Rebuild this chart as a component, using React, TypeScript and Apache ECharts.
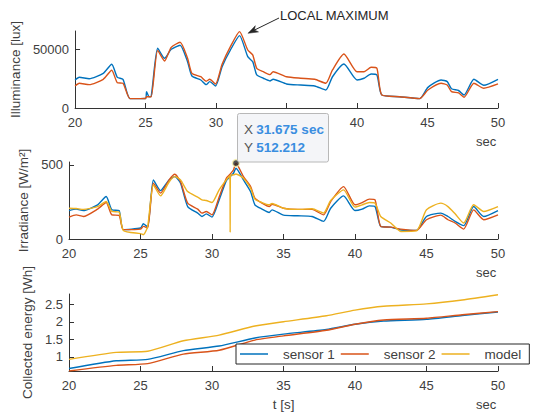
import React, { useEffect, useRef } from "react";
import * as echarts from "echarts";

// ---------- data ----------
const T_ILL = [20, 20.3, 21, 22, 22.6, 23, 23.4, 23.9, 25, 25.07, 25.25, 25.4, 25.86, 26.35, 26.82, 27.45, 27.98, 28.29, 28.92, 29.3, 29.55, 29.97, 30.43, 31.02, 31.67, 32.25, 32.6, 32.89, 33.35, 33.82, 34.05, 35, 36, 37, 37.79, 38.26, 39.07, 40, 40.5, 41, 41.41, 41.76, 43, 44.44, 45.03, 45.96, 46.4, 46.7, 47.2, 47.59, 48.29, 48.99, 50];
const ILL_S1 = [24000, 26300, 25100, 29700, 37500, 26300, 24600, 8000, 8200, 14000, 9700, 10000, 51200, 42600, 50300, 53800, 39700, 27400, 24000, 20000, 22600, 18900, 35400, 49700, 62000, 44000, 39700, 28300, 25500, 23200, 24600, 20600, 19700, 18900, 15400, 26800, 37700, 24000, 25500, 29200, 28300, 11100, 9700, 8000, 17700, 24000, 22600, 16500, 15000, 11100, 24600, 19500, 24600];
const ILL_S2 = [18900, 21200, 20000, 24600, 32300, 21700, 21200, 8000, 8200, 9700, 9700, 9700, 49400, 40300, 52000, 56300, 42600, 29700, 26800, 22900, 24600, 20600, 37500, 52600, 65500, 49700, 45500, 34000, 31100, 28600, 31100, 26800, 25500, 24600, 21200, 32600, 46300, 31100, 31100, 34900, 34000, 11100, 9700, 8000, 15400, 21200, 19700, 14000, 13000, 9200, 21200, 16900, 20600];

const T_IRR = [20, 20.5, 21, 22, 22.6, 23, 23.5, 23.8, 25, 25.2, 25.5, 25.9, 26.4, 27, 27.4, 27.8, 28.3, 29, 29.3, 29.6, 30, 30.5, 31, 31.25, 31.27, 31.29, 31.5, 31.675, 32.2, 32.7, 33, 33.5, 34, 34.2, 35, 36, 37, 37.8, 38.3, 39.2, 40, 40.5, 41, 41.4, 41.8, 42.5, 43.2, 44.3, 45, 46, 46.5, 47, 47.6, 48.3, 49, 50];
const IRR_S1 = [192, 202, 192, 231, 287, 197, 192, 63, 74, 103, 81, 399, 327, 399, 421, 377, 219, 175, 152, 170, 148, 264, 394, 418, 420, 423, 444, 478, 399, 320, 231, 202, 179, 197, 161, 157, 152, 119, 208, 291, 192, 202, 224, 219, 85, 80, 61, 58, 152, 175, 152, 119, 90, 219, 152, 192];
const IRR_S2 = [148, 163, 152, 202, 246, 163, 160, 63, 67, 85, 74, 377, 310, 399, 437, 388, 242, 202, 175, 186, 163, 283, 410, 435, 438, 441, 466, 512, 421, 354, 276, 242, 219, 235, 208, 200, 200, 163, 253, 354, 231, 246, 269, 264, 85, 80, 67, 58, 130, 161, 130, 108, 67, 197, 130, 163];
const IRR_MODEL = [208, 206, 200, 219, 253, 186, 182, 58, 36, 29, 85, 365, 291, 385, 421, 399, 320, 283, 264, 260, 246, 332, 399, 428, 45, 432, 433, 439, 410, 343, 269, 246, 231, 240, 208, 200, 204, 175, 260, 332, 215, 231, 246, 242, 152, 108, 51, 55, 197, 242, 219, 170, 108, 231, 186, 219];

const T_EN = [20, 23.3, 25.5, 28, 30.5, 33, 35, 38, 40, 42, 45, 47.5, 50];
const EN_S1 = [0.67, 0.89, 0.93, 1.18, 1.31, 1.54, 1.65, 1.78, 1.93, 2.02, 2.07, 2.18, 2.28];
const EN_S2 = [0.6, 0.76, 0.81, 1.08, 1.19, 1.48, 1.6, 1.76, 1.93, 2.05, 2.1, 2.2, 2.29];
const EN_MODEL = [0.93, 1.13, 1.16, 1.46, 1.62, 1.88, 2.0, 2.17, 2.33, 2.44, 2.51, 2.62, 2.77];

const SERIES_NAMES = ["sensor 1", "sensor 2", "model"];
const X_TICKS = [20, 25, 30, 35, 40, 45, 50];
// the "35" label of the top axis is hidden behind the data tip in the reference
const X_LABELS_TOP = [20, 25, 30, 40, 45, 50];
const ILL_TICKS = [0, 50000];
const IRR_TICKS = [0, 500];
const EN_TICKS = [1, 1.5, 2, 2.5];
const TIP_X = 31.675;
const TIP_Y = 512.212;

// ---------- styles ----------
const FONT = "Liberation Sans, Arial, Helvetica, sans-serif";
const AX = "#333333";
const TXT = "#404040";
const C1 = "#0072BD";
const C2 = "#D95319";
const C3 = "#EDB120";

const zip = (t: number[], v: number[]) => t.map((x, i) => [x, v[i]]);
const fmt = (v: number) => String(v);

const xAxis = (gridIndex: number, labels: number[], extra: any = {}) => ({
  type: "value",
  gridIndex,
  min: 20,
  max: 50,
  interval: 5,
  axisLine: { show: true, onZero: false, lineStyle: { color: AX, width: 1 } },
  axisTick: { show: true, inside: true, length: 5, customValues: X_TICKS, lineStyle: { color: AX } },
  axisLabel: { color: TXT, fontSize: 13, margin: 8, fontFamily: FONT, customValues: labels, formatter: fmt },
  splitLine: { show: false },
  ...extra,
});

const yAxis = (gridIndex: number, min: number, max: number, ticks: number[], name: string, nameGap: number) => ({
  type: "value",
  gridIndex,
  min,
  max,
  name,
  nameLocation: "middle",
  nameGap,
  nameTextStyle: { color: TXT, fontSize: 13.5, fontFamily: FONT },
  axisLine: { show: true, onZero: false, lineStyle: { color: AX, width: 1 } },
  axisTick: { show: true, inside: true, length: 5, customValues: ticks, lineStyle: { color: AX } },
  axisLabel: { color: TXT, fontSize: 13, margin: 6, fontFamily: FONT, customValues: ticks, formatter: fmt },
  splitLine: { show: false },
});

const line = (name: string, color: string, data: number[][], idx: number) => ({
  type: "line",
  name,
  xAxisIndex: idx,
  yAxisIndex: idx,
  data,
  showSymbol: false,
  smooth: 0.2,
  lineStyle: { color, width: 1.4 },
  itemStyle: { color },
  z: 2,
});

export default function App() {
  const ref = useRef<HTMLDivElement>(null);
  useEffect(() => {
    if (!ref.current) return;
    const chart = echarts.init(ref.current, null, { renderer: "svg" });
    const option: any = {
      animation: false,
      backgroundColor: "#ffffff",
      textStyle: { fontFamily: FONT },
      grid: [
        { left: 69, width: 429, top: 31, height: 77 },
        { left: 69, width: 429, top: 162, height: 77 },
        { left: 69, width: 429, top: 294, height: 77 },
      ],
      xAxis: [
        xAxis(0, X_LABELS_TOP),
        xAxis(1, X_TICKS),
        xAxis(2, X_TICKS, {
          name: "t [s]",
          nameLocation: "middle",
          nameGap: 26,
          nameTextStyle: { color: TXT, fontSize: 13.5, fontFamily: FONT },
        }),
      ],
      yAxis: [
        yAxis(0, 0, 66000, ILL_TICKS, "Illuminance [lux]", 45),
        yAxis(1, 0, 520, IRR_TICKS, "Irradiance [W/m²]", 27),
        yAxis(2, 0.6, 2.79, EN_TICKS, "Collected energy [Wh]", 25),
      ],
      legend: {
        data: SERIES_NAMES,
        left: 236,
        top: 344,
        orient: "horizontal",
        icon: "rect",
        itemWidth: 28,
        itemHeight: 1.5,
        itemGap: 6,
        padding: [3, 8, 3, 4],
        backgroundColor: "#ffffff",
        borderColor: "#262626",
        borderWidth: 1,
        borderRadius: 0,
        textStyle: { color: TXT, fontSize: 13.5, fontFamily: FONT, padding: [0, 0, 0, 10] },
      },
      series: [
        line(SERIES_NAMES[0], C1, zip(T_ILL, ILL_S1), 0),
        line(SERIES_NAMES[1], C2, zip(T_ILL, ILL_S2), 0),
        line(SERIES_NAMES[0], C1, zip(T_IRR, IRR_S1), 1),
        line(SERIES_NAMES[1], C2, zip(T_IRR, IRR_S2), 1),
        line(SERIES_NAMES[2], C3, zip(T_IRR, IRR_MODEL), 1),
        line(SERIES_NAMES[0], C1, zip(T_EN, EN_S1), 2),
        line(SERIES_NAMES[1], C2, zip(T_EN, EN_S2), 2),
        line(SERIES_NAMES[2], C3, zip(T_EN, EN_MODEL), 2),
        {
          type: "scatter",
          name: "datatip",
          xAxisIndex: 1,
          yAxisIndex: 1,
          data: [[TIP_X, TIP_Y]],
          symbolSize: 7,
          itemStyle: { color: "#262626", borderColor: "#fff6b0", borderWidth: 1.5 },
          z: 5,
        },
      ],
      graphic: [
        { type: "text", left: 476, top: 135, style: { text: "sec", fill: TXT, fontSize: 13, fontFamily: FONT } },
        { type: "text", left: 476, top: 266, style: { text: "sec", fill: TXT, fontSize: 13, fontFamily: FONT } },
        { type: "text", left: 476, top: 398, style: { text: "sec", fill: TXT, fontSize: 13, fontFamily: FONT } },
        {
          type: "text",
          left: 280,
          top: 9,
          style: { text: "LOCAL MAXIMUM", fill: "#262626", fontSize: 13, fontFamily: FONT },
        },
        {
          type: "line",
          shape: { x1: 279, y1: 18, x2: 254, y2: 30.3 },
          style: { stroke: "#262626", lineWidth: 1 },
        },
        {
          type: "polygon",
          shape: { points: [[248, 33.3], [255.3, 25.7], [254.4, 29.9], [258.5, 31.9]] },
          style: { fill: "#262626", stroke: "#262626", lineWidth: 0.5 },
        },
        {
          type: "rect",
          shape: { x: 237.5, y: 113.5, width: 91, height: 48.5, r: 2 },
          style: { fill: "#f4f5f8", stroke: "#b8b8b8", lineWidth: 1 },
          z: 10,
        },
        {
          type: "text",
          left: 244,
          top: 121,
          z: 11,
          style: {
            text: `{l|X} {v|${TIP_X.toFixed(3)} sec}\n{l|Y} {v|${TIP_Y.toFixed(3)}}`,
            fontFamily: FONT,
            lineHeight: 17.5,
            rich: {
              l: { fill: "#555555", fontSize: 13.5, fontFamily: FONT, lineHeight: 17.5 },
              v: { fill: "#3a8ee0", fontSize: 13.5, fontWeight: "bold", fontFamily: FONT, lineHeight: 17.5 },
            },
          },
        },
      ],
    };
    chart.setOption(option);
    return () => chart.dispose();
  }, []);
  return (
    <div
      ref={ref}
      style={{ position: "absolute", left: 0, top: 0, width: 555, height: 417, background: "#fff" }}
    />
  );
}
